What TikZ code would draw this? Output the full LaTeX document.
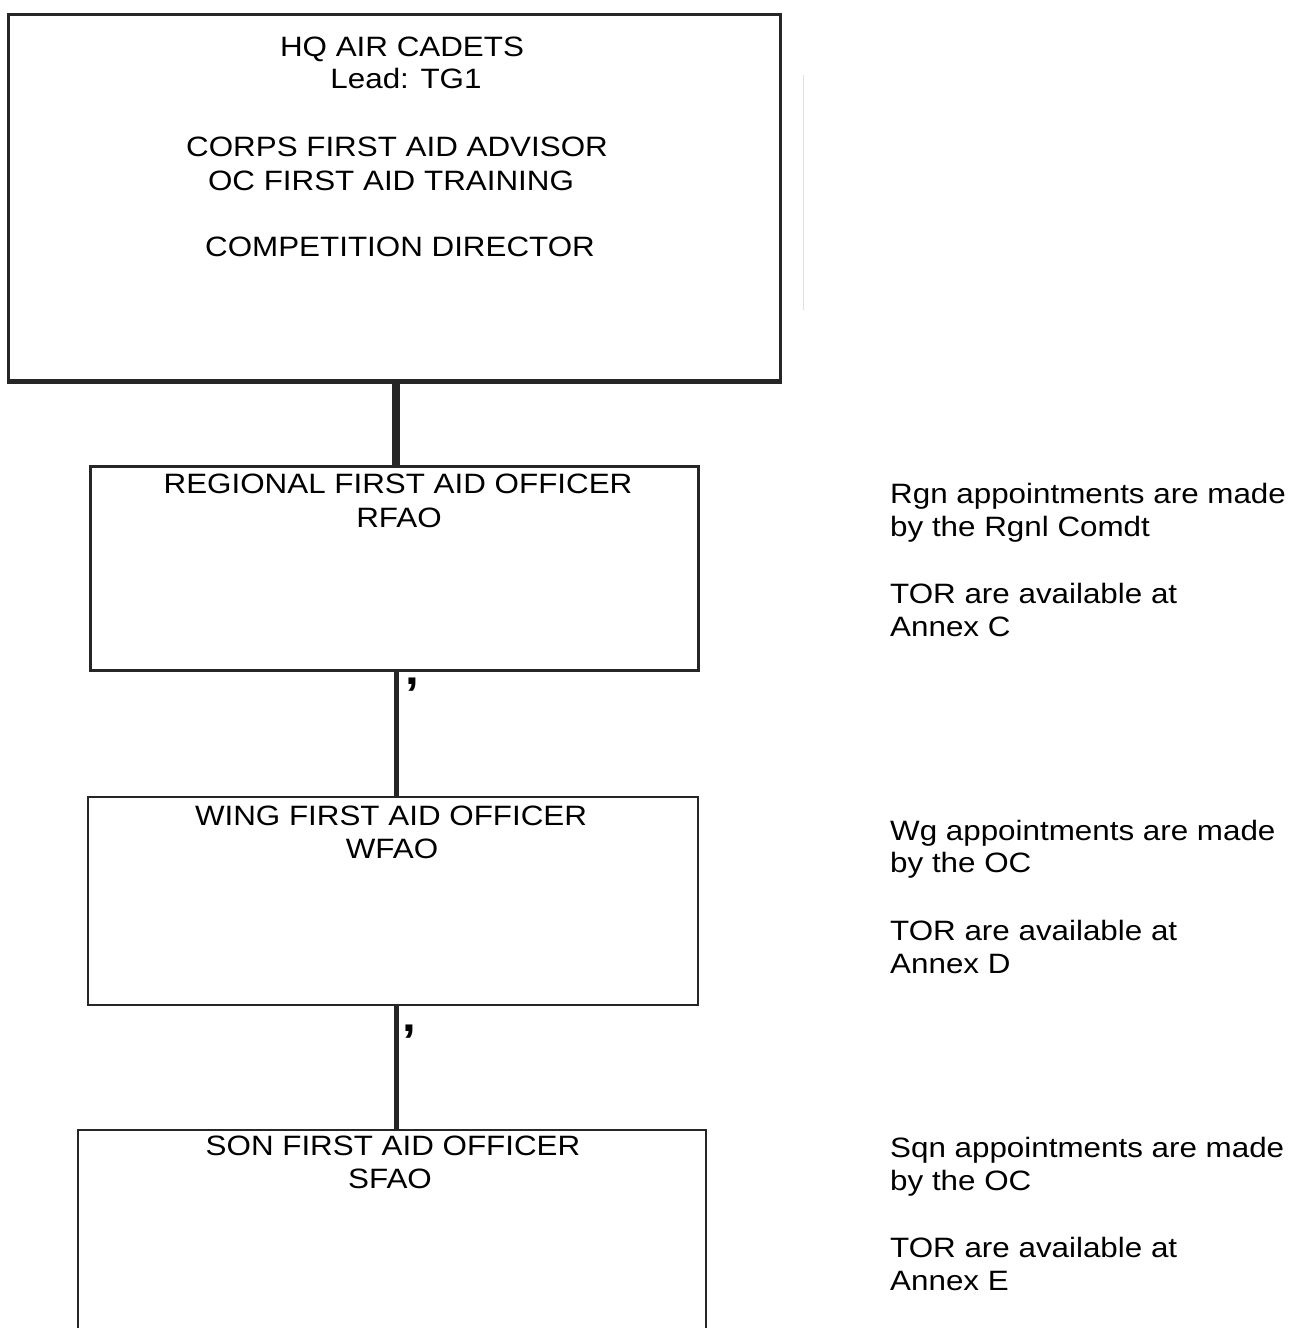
\documentclass[tikz,border=0pt]{standalone}
\usepackage{fontspec}
\setmainfont[FakeStretch=1.12]{Liberation Sans}
\begin{document}
\begin{tikzpicture}[x=1pt,y=-1pt,
  boxthick/.style={draw=black!85,line width=3pt,inner sep=0pt},
  boxthin/.style={draw=black!85,line width=1.6pt,inner sep=0pt},
  conthick/.style={draw=black!85,line width=8pt},
  conthin/.style={draw=black!85,line width=5pt},
  txt/.style={font=\fontsize{28}{33}\selectfont,inner sep=0pt,anchor=base},
  commamark/.style={font=\bfseries\fontsize{44}{44}\selectfont,inner sep=0pt,anchor=base},
  side/.style={font=\fontsize{28}{33}\selectfont,inner sep=0pt,anchor=base west}]
\clip (0,0) rectangle (1295,1328);
\fill[white] (0,0) rectangle (1295,1328);
% boxes
\node[boxthick,minimum width=772pt,minimum height=366pt] (hq) at (394,197) {};
\draw[black!85,line width=4.5pt] (hq.south west) -- (hq.south east);
\node[boxthick,minimum width=608pt,minimum height=204pt] (rfao) at (394,568) {};
\node[boxthin,minimum width=610pt,minimum height=208pt] (wfao) at (393,901) {};
\node[boxthin,minimum width=628pt,minimum height=230pt] (sfao) at (392,1245) {};
% connectors
\draw[conthick] ([xshift=2pt]hq.south) -- ([xshift=2pt]hq.south |- rfao.north);
\draw[conthin] ([xshift=2pt]rfao.south) -- ([xshift=2pt]rfao.south |- wfao.north);
\draw[conthin] ([xshift=3pt]wfao.south) -- ([xshift=3pt]wfao.south |- sfao.north);
% marks
\node[commamark] (c1) at (412,684) {,};
\node[commamark] (c2) at (409,1031) {,};
\draw[black!12,line width=1pt] (803,75) -- (803,310);
% top box text
\node[txt] (t1) at (402,56) {HQ AIR CADETS};
\node[txt] (t2) at (406,88) {Lead: TG1};
\node[txt] (t3) at (397,156) {CORPS FIRST AID ADVISOR};
\node[txt] (t4) at (391,190) {OC FIRST AID TRAINING};
\node[txt] (t5) at (400,256) {COMPETITION DIRECTOR};
% box texts
\node[txt] (r1) at (398,493) {REGIONAL FIRST AID OFFICER};
\node[txt] (r2) at (399,527) {RFAO};
\node[txt] (w1) at (391,825) {WING FIRST AID OFFICER};
\node[txt] (w2) at (392,858) {WFAO};
\node[txt] (s1) at (393,1155) {SON FIRST AID OFFICER};
\node[txt] (s2) at (390,1188) {SFAO};
% side notes
\node[side] (a1) at (890,503) {Rgn appointments are made};
\node[side] (a2) at (890,536) {by the Rgnl Comdt};
\node[side] (a3) at (890,603) {TOR are available at};
\node[side] (a4) at (890,636) {Annex C};
\node[side] (b1) at (890,840) {Wg appointments are made};
\node[side] (b2) at (890,872) {by the OC};
\node[side] (b3) at (890,940) {TOR are available at};
\node[side] (b4) at (890,973) {Annex D};
\node[side] (d1) at (890,1157) {Sqn appointments are made};
\node[side] (d2) at (890,1190) {by the OC};
\node[side] (d3) at (890,1257) {TOR are available at};
\node[side] (d4) at (890,1290) {Annex E};
\end{tikzpicture}
\end{document}
